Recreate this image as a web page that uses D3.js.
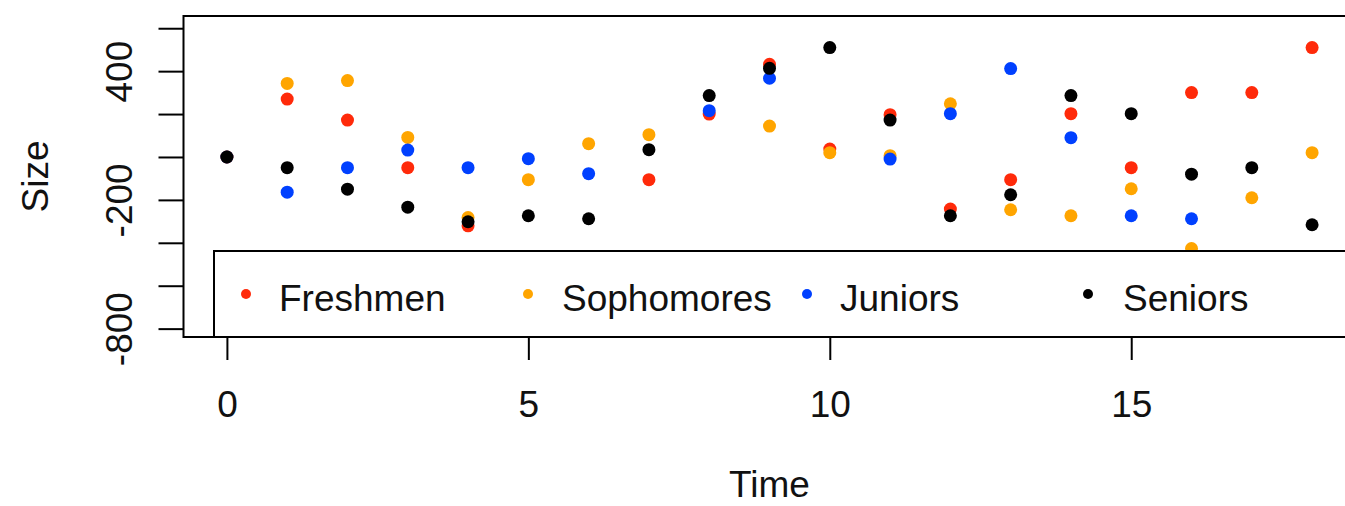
<!DOCTYPE html>
<html>
<head>
<meta charset="utf-8">
<script src="https://cdn.jsdelivr.net/npm/d3@7"></script>
<style>
  html, body { margin: 0; padding: 0; background: #fff; }
  svg { display: block; }
  text { font-family: "Liberation Sans", Arial, sans-serif; fill: #111; }
</style>
</head>
<body>
<svg id="chart" width="1345" height="506"></svg>
<script>
// Class size over time, one series per class year (null = value not available)
const time = [0, 1, 2, 3, 4, 5, 6, 7, 8, 9, 10, 11, 12, 13, 14, 15, 16, 17, 18];
const freshmen   = [0, 270, 172, -50, -321, null, null, -106, 200, 432, 37, 197, -243, -106, 202, -50, 300, 300, 510];
const sophomores = [0, 343, 356, 91, -282, -106, 62, 104, null, 144, 20, 6, 248, -246, -274, -148, -427, -190, 20];
const juniors    = [0, -164, -50, 32, -50, -8, -78, null, 216, 367, null, -10, 202, 412, 90, -274, -288, null, null];
const seniors    = [0, -50, -150, -234, -302, -274, -288, 34, 286, 413, 510, 172, -274, -176, 286, 202, -80, -50, -316];

const seriesNames  = ["Freshmen", "Sophomores", "Juniors", "Seniors"];
const seriesValues = [freshmen, sophomores, juniors, seniors];
const seriesColors = ["#ff2a0a", "#ffa500", "#0040ff", "#000000"];

const xTicks = [0, 5, 10, 15];
const yTicks = [-800, -600, -400, -200, 0, 200, 400, 600];
const yTickLabels = [-800, -200, 400];

const svg = d3.select("#chart");
const W = 1345, H = 506;
svg.append("rect").attr("width", W).attr("height", H).attr("fill", "#fff");

// plot region (extends past the right edge of the page)
const plotLeft = 183.5, plotTop = 16, plotRight = 1355.5, plotBottom = 337;

const x = d3.scaleLinear().domain([-0.72, 18.72]).range([plotLeft, plotRight]);
const y = d3.scaleLinear().domain([-839, 657]).range([plotBottom, plotTop]);

const FONT = 37;

// points, drawn series by series so later series sit on top
const pts = svg.append("g");
seriesValues.forEach((vals, i) => {
  pts.selectAll(null)
    .data(time.map((t, j) => ({ t, v: vals[j] })).filter(d => d.v !== null))
    .join("circle")
    .attr("cx", d => x(d.t))
    .attr("cy", d => y(d.v))
    .attr("r", 6.5)
    .attr("fill", seriesColors[i]);
});

// legend box: white fill covering the lower part of the plot
const legendG = svg.append("g");
legendG.append("rect")
  .attr("x", 214).attr("y", 251)
  .attr("width", 1200).attr("height", plotBottom - 251)
  .attr("fill", "#fff").attr("stroke", "#000").attr("stroke-width", 2);

const legendDotX = [246, 528, 807, 1088];
const legendTextX = [279, 562, 840, 1123];
seriesNames.forEach((name, i) => {
  legendG.append("circle")
    .attr("cx", legendDotX[i]).attr("cy", 294)
    .attr("r", 5).attr("fill", seriesColors[i]);
  legendG.append("text")
    .attr("x", legendTextX[i]).attr("y", 311)
    .attr("font-size", FONT)
    .text(name);
});

// plot frame
svg.append("rect")
  .attr("x", plotLeft).attr("y", plotTop)
  .attr("width", plotRight - plotLeft).attr("height", plotBottom - plotTop)
  .attr("fill", "none").attr("stroke", "#000").attr("stroke-width", 2);

// x axis
const xAxis = svg.append("g")
  .attr("transform", `translate(0,${plotBottom})`)
  .call(d3.axisBottom(x).tickValues(xTicks).tickSize(23).tickPadding(0).tickFormat(d => String(d)));
xAxis.select(".domain").remove();
xAxis.selectAll(".tick line").attr("stroke", "#000").attr("stroke-width", 2);
xAxis.selectAll(".tick text")
  .attr("y", 80).attr("dy", null)
  .attr("font-size", FONT).attr("font-family", "Liberation Sans, Arial, sans-serif")
  .attr("fill", "#111");

// y axis with labels parallel to the axis (plain hyphen for negatives)
const yAxis = svg.append("g")
  .attr("transform", `translate(${plotLeft},0)`)
  .call(d3.axisLeft(y).tickValues(yTicks).tickSize(25).tickPadding(0)
    .tickFormat(d => yTickLabels.includes(d) ? String(d) : ""));
yAxis.select(".domain").remove();
yAxis.selectAll(".tick line").attr("stroke", "#000").attr("stroke-width", 2);
yAxis.selectAll(".tick text")
  .attr("x", null).attr("dy", null)
  .attr("text-anchor", "middle")
  .attr("transform", `translate(${131.7 - plotLeft},0) rotate(-90)`)
  .attr("font-size", FONT).attr("font-family", "Liberation Sans, Arial, sans-serif")
  .attr("fill", "#111");

// axis titles
svg.append("text")
  .attr("x", (plotLeft + plotRight) / 2).attr("y", 497)
  .attr("text-anchor", "middle").attr("font-size", FONT)
  .text("Time");
svg.append("text")
  .attr("transform", `translate(48,${(plotTop + plotBottom) / 2}) rotate(-90)`)
  .attr("text-anchor", "middle").attr("font-size", FONT)
  .text("Size");
</script>
</body>
</html>
